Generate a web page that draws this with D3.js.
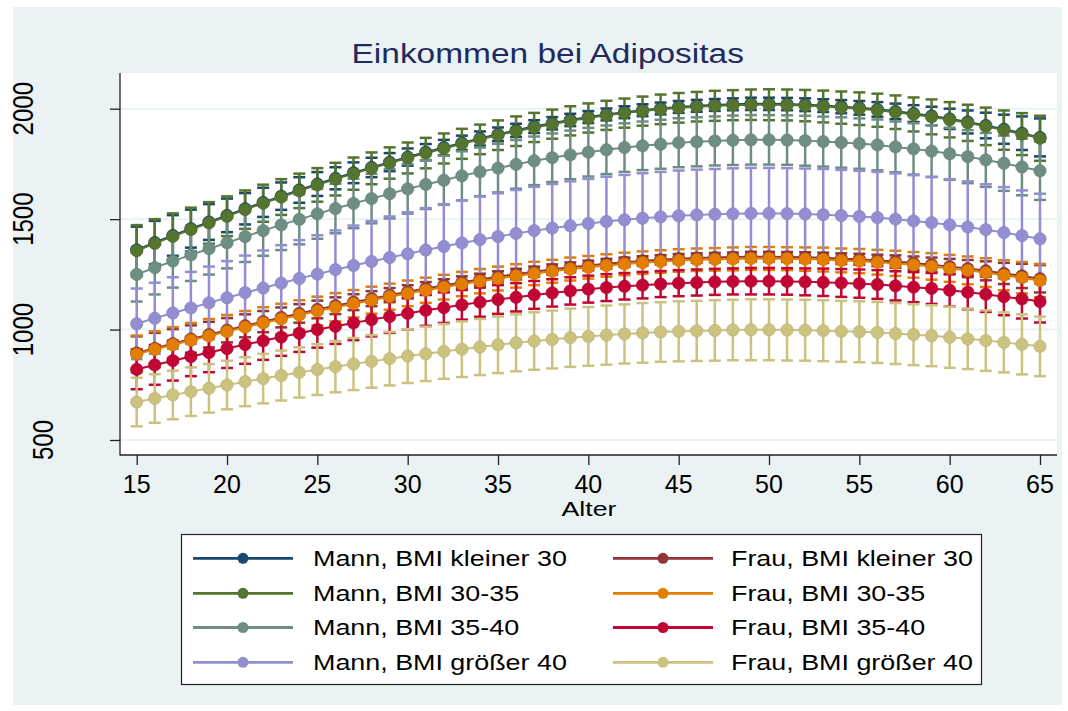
<!DOCTYPE html>
<html><head><meta charset="utf-8">
<script src="https://cdn.jsdelivr.net/npm/d3@7"></script>
<style>
body{margin:0;background:#fff}
svg{display:block}
text{font-family:"Liberation Sans",Arial,Helvetica,sans-serif}
</style>
</head><body>
<svg id="chart" width="1068" height="711"></svg>
<script>
// ---------- DATA ----------
const ages = [15,16,17,18,19,20,21,22,23,24,25,26,27,28,29,30,31,32,33,34,35,36,37,38,39,40,
  41,42,43,44,45,46,47,48,49,50,51,52,53,54,55,56,57,58,59,60,61,62,63,64,65];
const xTicks = [15,20,25,30,35,40,45,50,55,60,65];
const yTicks = [500,1000,1500,2000];
const titleText = "Einkommen bei Adipositas";
const xTitle = "Alter";

const seriesNames = ["Mann, BMI kleiner 30","Frau, BMI kleiner 30","Mann, BMI 30-35","Frau, BMI 30-35",
  "Mann, BMI 35-40","Frau, BMI 35-40","Mann, BMI größer 40","Frau, BMI größer 40"];
const seriesColors = ["#1a476f","#90353b","#55752f","#e37e00","#6e8e84","#c10534","#938dd2","#cac27e"];

// predicted income (margins) per age
const meanMannKl30 = [1361,1394,1426,1457,1487,1517,1547,1576,1604,1632,1659,1685,1710,1734,1758,1781,1803,1824,1845,1865,1884,1902,1919,1934,1949,1962,1974,1984,1993,2001,2008,2013,2017,2020,2022,2022,2021,2018,2014,2009,2004,1997,1988,1978,1967,1954,1940,1924,1907,1889,1870];
const meanFrauKl30 = [894,915,936,957,977,997,1017,1036,1055,1073,1091,1108,1124,1140,1156,1171,1186,1200,1214,1227,1239,1251,1262,1272,1282,1290,1298,1305,1311,1316,1321,1324,1326,1328,1330,1330,1329,1327,1325,1321,1318,1313,1308,1301,1294,1285,1276,1266,1254,1243,1230];
const meanMann3035 = [1357,1390,1422,1453,1483,1513,1543,1572,1600,1628,1655,1681,1706,1730,1754,1777,1799,1820,1841,1861,1880,1898,1915,1930,1945,1958,1970,1980,1989,1997,2004,2009,2013,2016,2018,2018,2017,2014,2010,2005,2000,1993,1984,1974,1963,1950,1936,1920,1903,1885,1866];
const meanFrau3035 = [889,910,931,952,971,991,1011,1030,1048,1066,1084,1101,1117,1133,1149,1164,1178,1192,1206,1219,1231,1243,1254,1264,1274,1282,1290,1297,1303,1308,1313,1316,1318,1320,1322,1322,1321,1319,1317,1313,1310,1305,1300,1293,1286,1277,1268,1258,1246,1235,1222];
const meanMann3540 = [1250,1280,1310,1338,1366,1393,1421,1448,1474,1499,1524,1548,1571,1593,1615,1637,1657,1676,1696,1714,1731,1748,1764,1778,1791,1803,1814,1824,1832,1839,1846,1850,1854,1857,1859,1859,1858,1855,1851,1847,1842,1836,1827,1818,1808,1796,1783,1768,1753,1736,1719];
const meanFrau3540 = [820,840,859,878,896,914,932,949,966,983,1000,1015,1030,1045,1059,1073,1087,1099,1112,1124,1136,1146,1157,1166,1175,1183,1190,1196,1201,1206,1210,1213,1216,1218,1219,1219,1218,1216,1214,1211,1208,1204,1198,1192,1186,1178,1169,1160,1149,1139,1127];
const meanMannGr40 = [1026,1051,1075,1098,1121,1144,1167,1188,1210,1231,1251,1271,1290,1308,1326,1343,1360,1376,1392,1407,1421,1435,1448,1459,1470,1480,1489,1497,1504,1510,1515,1519,1522,1524,1526,1526,1525,1523,1520,1516,1512,1507,1500,1492,1484,1474,1464,1452,1439,1425,1411];
const meanFrauGr40 = [672,688,704,719,734,749,764,778,792,806,819,832,844,856,868,880,890,901,911,921,931,940,948,955,963,969,975,980,985,989,992,994,996,998,999,999,998,997,995,992,990,987,982,977,972,965,958,950,942,933,924];

// half-width of the 95% confidence interval per age
const ciMannKl30 = [105,98,92,86,81,76,71,66,62,58,54,50,47,44,41,39,37,35,33,32,31,30,29,28,28,27,27,27,27,27,27,27,27,27,28,28,28,29,29,30,31,33,35,38,42,46,52,58,66,76,86];
const ciFrauKl30 = [75,70,66,62,58,55,52,48,45,42,40,38,36,34,32,30,29,28,27,26,25,24,23,23,22,22,22,21,21,21,21,21,21,21,22,22,22,23,23,24,25,26,28,30,32,35,39,43,48,55,62];
const ciMann3035 = [116,110,104,99,94,90,87,84,81,78,76,74,73,72,71,70,69,68,68,67,67,67,66,66,66,66,66,66,66,67,67,67,68,68,69,70,70,71,72,73,74,75,76,77,79,80,82,85,89,95,102];
const ciFrau3035 = [84,82,80,78,77,75,73,71,69,67,65,64,62,61,59,58,57,56,55,55,54,53,53,52,52,51,51,51,51,51,51,51,51,52,52,52,52,53,54,54,55,56,57,58,60,61,63,65,68,71,75];
const ciMann3540 = [123,121,120,118,117,116,115,114,114,113,113,112,112,112,112,112,111,111,111,110,110,110,110,110,110,110,110,110,110,111,111,111,111,112,112,112,112,113,113,114,114,115,115,116,117,118,120,122,125,128,132];
const ciFrau3540 = [90,90,90,89,89,88,87,86,85,84,82,80,78,76,74,72,70,69,67,66,65,64,63,62,62,61,61,60,60,59,59,59,59,59,60,60,60,61,62,63,64,65,66,68,70,74,77,80,84,89,95];
const ciMannGr40 = [160,161,162,163,164,166,168,170,172,174,176,178,181,183,186,188,190,192,193,195,196,197,198,200,201,202,203,203,204,204,205,205,205,206,206,206,206,206,207,207,207,207,207,207,207,207,207,206,206,205,204];
const ciFrauGr40 = [110,110,110,110,110,110,111,112,113,114,115,116,118,119,121,122,123,124,126,127,128,129,130,131,132,133,134,134,135,135,136,136,137,137,138,138,138,138,138,138,138,138,138,138,138,138,137,137,136,136,135];

const seriesMeans = [meanMannKl30, meanFrauKl30, meanMann3035, meanFrau3035, meanMann3540, meanFrau3540, meanMannGr40, meanFrauGr40];
const seriesCIs = [ciMannKl30, ciFrauKl30, ciMann3035, ciFrau3035, ciMann3540, ciFrau3540, ciMannGr40, ciFrauGr40];

// ---------- DRAWING ----------
const svg = d3.select("#chart");
const W = 1068, H = 711;
const bg = "#eaf2f3";
const plot = {l:120, r:1057, t:73, b:455};

svg.append("rect").attr("x",0).attr("y",0).attr("width",W).attr("height",H).attr("fill","#fff");
svg.append("rect").attr("x",13).attr("y",7).attr("width",W-13-6).attr("height",H-7-6).attr("fill",bg);
svg.append("rect").attr("x",plot.l).attr("y",plot.t).attr("width",plot.r-plot.l).attr("height",plot.b-plot.t).attr("fill","#fff");

const x = d3.scaleLinear().domain([15,65]).range([136.7,1040]);
const y = d3.scaleLinear().domain([500,2000]).range([440,108.7]);

function stext(g, s, tx, ty, size, sx, anchor, fill){
  return g.append("text")
    .attr("transform",`translate(${tx},${ty}) scale(${sx},1)`)
    .attr("text-anchor",anchor).attr("font-size",size)
    .attr("fill",fill||"#000").text(s);
}

// grid
svg.append("g").selectAll("line").data(yTicks).join("line")
  .attr("x1",plot.l).attr("x2",plot.r)
  .attr("y1",d=>y(d)).attr("y2",d=>y(d))
  .attr("stroke",bg).attr("stroke-width",2);

// axes via d3
const yAxis = d3.axisLeft(y).tickValues(yTicks).tickSize(10).tickFormat("");
const ga = svg.append("g").attr("transform",`translate(${plot.l},0)`).call(yAxis);
ga.select(".domain").remove();
ga.selectAll(".tick line").attr("stroke","#222").attr("stroke-width",1.3);

const xAxis = d3.axisBottom(x).tickValues(xTicks).tickSize(10).tickFormat("");
const gx = svg.append("g").attr("transform",`translate(0,${plot.b})`).call(xAxis);
gx.select(".domain").remove();
gx.selectAll(".tick line").attr("stroke","#222").attr("stroke-width",1.3);

svg.append("line").attr("x1",plot.l).attr("x2",plot.l).attr("y1",plot.t).attr("y2",plot.b+0.5)
  .attr("stroke","#222").attr("stroke-width",1.3);
svg.append("line").attr("x1",plot.l).attr("x2",plot.r).attr("y1",plot.b).attr("y2",plot.b)
  .attr("stroke","#222").attr("stroke-width",1.3);

// y tick labels (rotated)
yTicks.forEach(v=>{
  const s = String(v);
  const bx = 33.3 + (4 - s.length)*20;
  svg.append("text")
    .attr("transform",`translate(${bx},${y(v)}) rotate(-90) scale(1,1.26)`)
    .attr("text-anchor","middle").attr("font-size",24).attr("fill","#000").text(s);
});
// x tick labels
xTicks.forEach(v=>{ stext(svg, String(v), x(v), 493, 25, 1, "middle"); });

// titles
stext(svg, titleText, 547.7, 63.3, 28, 1.195, "middle", "#1f2b5b");
stext(svg, xTitle, 589, 516, 21, 1.27, "middle");

// CI caps (all first)
const capHalf = 6;
seriesMeans.forEach((means, si)=>{
  const g = svg.append("g").attr("stroke",seriesColors[si]).attr("stroke-width",2.5).attr("fill","none");
  const ci = seriesCIs[si];
  ages.forEach((a,i)=>{
    const lo = means[i]-ci[i], hi = means[i]+ci[i];
    g.append("line").attr("x1",x(a)).attr("x2",x(a)).attr("y1",y(lo)).attr("y2",y(hi));
    g.append("line").attr("x1",x(a)-capHalf).attr("x2",x(a)+capHalf).attr("y1",y(lo)).attr("y2",y(lo));
    g.append("line").attr("x1",x(a)-capHalf).attr("x2",x(a)+capHalf).attr("y1",y(hi)).attr("y2",y(hi));
  });
});

// connected lines + markers
const line = d3.line().x((d,i)=>x(ages[i])).y(d=>y(d));
seriesMeans.forEach((means, si)=>{
  const c = seriesColors[si];
  svg.append("path").datum(means).attr("d",line).attr("fill","none").attr("stroke",c).attr("stroke-width",2);
  svg.append("g").selectAll("circle").data(means).join("circle")
    .attr("cx",(d,i)=>x(ages[i])).attr("cy",d=>y(d)).attr("r",6.2)
    .attr("fill",c).attr("stroke",d3.color(c).darker(0.3)).attr("stroke-width",0.6);
});

// legend
const lg = svg.append("g");
lg.append("rect").attr("x",181.5).attr("y",534.5).attr("width",800).attr("height",150)
  .attr("fill","#fff").attr("stroke","#222").attr("stroke-width",1.2);
const rowY = [558.3, 593.3, 627.5, 662.3];
const colX = [193, 613];
const textX = [313, 731];
seriesNames.forEach((name, si)=>{
  const col = si % 2, row = Math.floor(si/2);
  const cy = rowY[row];
  lg.append("line").attr("x1",colX[col]).attr("x2",colX[col]+100).attr("y1",cy).attr("y2",cy)
    .attr("stroke",seriesColors[si]).attr("stroke-width",2.8);
  lg.append("ellipse").attr("cx",colX[col]+50).attr("cy",cy).attr("rx",5.5).attr("ry",5.5)
    .attr("fill",seriesColors[si]);
  stext(lg, name, textX[col], cy+7.6, 22, 1.222, "start");
});
</script>
</body></html>
